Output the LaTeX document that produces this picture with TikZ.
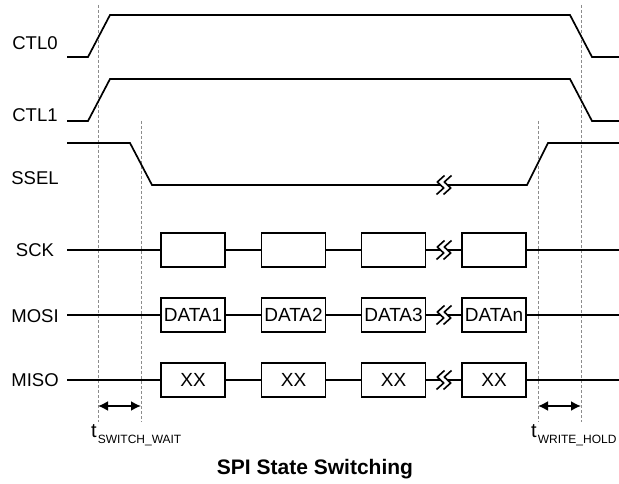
\documentclass[tikz,border=0pt]{standalone}
\usepackage{fontspec}
\setmainfont{Liberation Sans}
\usetikzlibrary{arrows.meta}

\tikzset{
  sig/.style={line width=1.7pt, line join=miter},
  guide/.style={draw=black!45, line width=0.8pt, dash pattern=on 3pt off 2pt},
  lbl/.style={font=\fontsize{18.5}{20}\selectfont, inner sep=0pt},
  slot/.style={draw, line width=1.7pt, minimum width=64pt, minimum height=34pt,
               inner sep=0pt, font=\fontsize{19}{20}\selectfont},
  span/.style={line width=1.8pt, {Latex[length=10pt,width=10pt]}-{Latex[length=10pt,width=10pt]}},
  tlbl/.style={anchor=base west, inner sep=0pt, font=\fontsize{20}{22}\selectfont},
  brkmark/.pic={
    \foreach \o in {-3.5,3.5}
      \draw[line width=1.6pt, line join=round]
        (\o+4,-9.5) -- (\o-3.2,-3) -- (\o+3.2,3) -- (\o-4,9.5);
  }
}

\newcommand{\tsub}[1]{\kern1pt\raisebox{-6pt}{\fontsize{12}{12}\selectfont #1}}

\begin{document}
\begin{tikzpicture}[x=1pt,y=-1pt]
\useasboundingbox (0,0) rectangle (619,484);

% timing reference lines
\draw[guide] (98,5) -- (98,422);
\draw[guide] (141,121) -- (141,422);
\draw[guide] (538,121) -- (538,422);
\draw[guide] (581,5) -- (581,422);

% signal names
\node[lbl] (nctl0) at (35,43) {CTL0};
\node[lbl] (nctl1) at (35,115) {CTL1};
\node[lbl] (nssel) at (35,178) {SSEL};
\node[lbl] (nsck)  at (35,250) {SCK};
\node[lbl] (nmosi) at (35,316) {MOSI};
\node[lbl] (nmiso) at (35,380) {MISO};

% control lines
\draw[sig] (67,57) -- (88,57) -- (110,15) -- (570,15) -- (592,57) -- (619,57);
\draw[sig] (67,121) -- (88,121) -- (110,79) -- (570,79) -- (592,121) -- (619,121);

% slave select with break
\draw[sig] (67,143) -- (130,143) -- (152,185) -- (440.5,185);
\pic at (444,185) {brkmark};
\draw[sig] (447.5,185) -- (527,185) -- (548,143) -- (619,143);

% clock / data slots
\foreach \r/\y in {k/250,o/315,i/380}{
  \node[slot] (\r1) at (193,\y) {};
  \node[slot] (\r2) at (293.5,\y) {};
  \node[slot] (\r3) at (393.5,\y) {};
  \node[slot] (\r4) at (494,\y) {};
  \coordinate (\r s) at (67,\y);
  \coordinate (\r e) at (619,\y);
  \coordinate (\r bl) at (440.5,\y);
  \coordinate (\r br) at (447.5,\y);
  \draw[sig] (\r s) -- (\r1.west);
  \draw[sig] (\r1.east) -- (\r2.west);
  \draw[sig] (\r2.east) -- (\r3.west);
  \draw[sig] (\r3.east) -- (\r bl);
  \pic at (444,\y) {brkmark};
  \draw[sig] (\r br) -- (\r4.west);
  \draw[sig] (\r4.east) -- (\r e);
}

% slot contents
\node[font=\fontsize{19}{20}\selectfont] at (o1) {DATA1};
\node[font=\fontsize{19}{20}\selectfont] at (o2) {DATA2};
\node[font=\fontsize{19}{20}\selectfont] at (o3) {DATA3};
\node[font=\fontsize{19}{20}\selectfont] at (o4) {DATAn};
\foreach \n in {1,2,3,4}
  \node[font=\fontsize{19}{20}\selectfont] at (i\n) {XX};

% timing parameters
\coordinate (swA) at (98,406);
\coordinate (swB) at (141,406);
\coordinate (whA) at (538,406);
\coordinate (whB) at (581,406);
\draw[span] (swA) -- (swB);
\draw[span] (whA) -- (whB);
\node[tlbl] (tsw) at (91,437) {t\tsub{SWITCH\_WAIT}};
\node[tlbl] (twh) at (531,437) {t\tsub{WRITE\_HOLD}};

% caption
\node[anchor=base, inner sep=0pt, font=\bfseries\fontsize{21}{24}\selectfont] (title)
  at (315,474) {SPI State Switching};
\end{tikzpicture}
\end{document}
